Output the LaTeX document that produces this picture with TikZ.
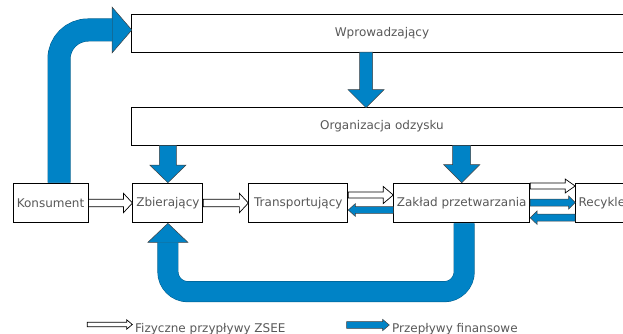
\documentclass[tikz,border=0pt]{standalone}
\usepackage{fontspec}
\setmainfont{DejaVu Sans}
\usepackage{tikz}
\usetikzlibrary{calc}
\usetikzlibrary{positioning}

\definecolor{flowblue}{RGB}{0,131,198}
\definecolor{labelgray}{RGB}{88,88,88}

% block arrow: [style]{from}{to}{half shaft}{half head}{head length}
\newcommand{\blockarrow}[6][]{%
  \coordinate (bhead) at ($(#3)!#6!(#2)$);
  \draw[#1] ($(#2)!#4!90:(#3)$) -- ($(bhead)!#4!90:(#3)$) -- ($(bhead)!#5!90:(#3)$) -- (#3)
    -- ($(bhead)!#5!-90:(#3)$) -- ($(bhead)!#4!-90:(#3)$) -- ($(#2)!#4!-90:(#3)$) -- cycle;}

\begin{document}
\begin{tikzpicture}[
  x=1pt, y=-1pt,
  every node/.style = {font=\fontsize{12pt}{14pt}\selectfont},
  box/.style = {draw, line width=0.9pt, fill=white, text=labelgray, inner sep=1pt, minimum height=39.7pt},
  band/.style = {text=labelgray, inner sep=1pt, minimum width=500pt, minimum height=37.3pt},
  legend/.style = {text=labelgray, inner sep=0pt},
  money/.style = {fill=flowblue, draw=black!75, line width=0.5pt},
  goods/.style = {fill=white, draw=black, line width=0.7pt},
  node distance=45pt
  ]
	\useasboundingbox (0,0) rectangle (623,334);

	\node[band] (wprow) at (382,33.4) {Wprowadzający};
	\node[band] (org) at (382,126.5) {Organizacja odzysku};
	% the two bands run on past the right edge
	\draw[line width=0.9pt] (wprow.north west) rectangle ($(wprow.south east)+(60,0)$);
	\draw[line width=0.9pt] (org.north west) rectangle ($(org.south east)+(60,0)$);

	\node[box, minimum width=75pt] (kons) at (50.5,203) {Konsument};
	\node[box, minimum width=70pt, right=44pt of kons] (zbier) {Zbierający};
	\node[box, minimum width=99pt, right=of zbier] (trans) {Transportujący};
	\node[box, minimum width=136pt, right=of trans] (zakl) {Zakład przetwarzania};
	\node[box, inner xsep=3pt, text width=100pt, align=left, right=of zakl] (recy) {Recykler};

	% Konsument -> Wprowadzajacy
	\coordinate (k1) at ($(kons.north)+(8.5,0)$);
	\coordinate (k2) at (112,30);
	\coordinate (k3) at (wprow.west |- k2);
	\draw[money] ($(k2)+(0,-23)$) -- (k3) -- ($(k2)+(0,23)$) -- cycle;
	\draw[flowblue!70!black, line width=23pt, rounded corners=29pt] (k1) |- (k2);
	\draw[flowblue, line width=22pt, rounded corners=29pt] (k1) |- (k2);

	% Zaklad -> Zbierajacy
	\coordinate (z1) at ($(zakl.south)+(2.5,0)$);
	\coordinate (z2) at ($(zbier.south)+(0,19)$);
	\coordinate (z3) at (z2 |- 0,291.7);
	\draw[money] ($(z2)+(-20,0)$) -- (zbier.south) -- ($(z2)+(20,0)$) -- cycle;
	\draw[flowblue!70!black, line width=21pt, rounded corners=20pt] (z1) |- (z3) -- (z2);
	\draw[flowblue, line width=20pt, rounded corners=20pt] (z1) |- (z3) -- (z2);

	\coordinate (m1) at ($(wprow.south)+(-16,0)$);
	\coordinate (m2) at ($(org.north)+(-16,0)$);
	\blockarrow[money]{m1}{m2}{6.5pt}{18pt}{18pt}
	\blockarrow[money]{org.south -| zbier.north}{zbier.north}{8.5pt}{18pt}{17.5pt}
	\blockarrow[money]{org.south -| zakl.north}{zakl.north}{9pt}{18pt}{18pt}

	\blockarrow[goods]{kons.east}{zbier.west}{3.8pt}{9.7pt}{9pt}
	\blockarrow[goods]{zbier.east}{trans.west}{3.8pt}{9.7pt}{9pt}

	\coordinate (t1) at ($(trans.east)+(0,-8)$);
	\coordinate (t2) at ($(zakl.west)+(0,-8)$);
	\coordinate (t3) at ($(zakl.west)+(0,7)$);
	\coordinate (t4) at ($(trans.east)+(0,7)$);
	\blockarrow[goods]{t1}{t2}{3pt}{8.5pt}{10pt}
	\blockarrow[money]{t3}{t4}{3.3pt}{6.3pt}{7pt}

	\coordinate (r1) at ($(zakl.east)+(0,-17)$);
	\coordinate (r2) at (zakl.east -| recy.west);
	\coordinate (r2) at ($(r2)+(0,-17)$);
	\coordinate (r3) at ($(zakl.east)+(0,-0.5)$);
	\coordinate (r4) at ($(r2)+(0,16.5)$);
	\coordinate (r5) at ($(r2)+(0,31.7)$);
	\coordinate (r6) at ($(zakl.east)+(0,14.7)$);
	\blockarrow[goods]{r1}{r2}{3pt}{7pt}{10pt}
	\blockarrow[money]{r3}{r4}{3.5pt}{6.5pt}{6.5pt}
	\blockarrow[money]{r5}{r6}{3.5pt}{6.8pt}{7pt}

	% legend
	\node[legend, anchor=base west] (lgoods) at (135,332.5) {Fizyczne przypływy ZSEE};
	\node[legend, anchor=base west] (lmoney) at (392,332.5) {Przepływy finansowe};
	\coordinate (l1) at (87.3,324.5);
	\coordinate (l2) at (132.3,324.5);
	\coordinate (l3) at (346.7,325);
	\coordinate (l4) at (389.3,325);
	\blockarrow[goods]{l1}{l2}{2.2pt}{4.7pt}{5.6pt}
	\blockarrow[money]{l3}{l4}{3.3pt}{5.7pt}{6.7pt}

\end{tikzpicture}
\end{document}
